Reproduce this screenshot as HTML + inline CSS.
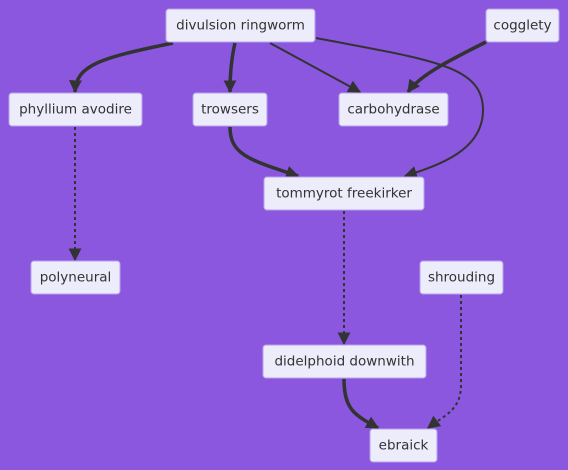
<!DOCTYPE html>
<html><head><meta charset="utf-8"><style>
body{margin:0;background:#8a57de;}
svg{display:block;font-family:"DejaVu Sans","Liberation Sans",sans-serif;}
.n rect{fill:#ececfa;stroke:#b9a2ee;stroke-width:1;}
.n text{font-size:13.5px;fill:#333;text-anchor:middle;dominant-baseline:central;}
.e{fill:none;stroke:#333;}
</style></head><body>
<svg width="568" height="470" viewBox="0 0 568 470">
<defs><marker id="b" viewBox="0 0 10 10" refX="9" refY="5" markerWidth="13" markerHeight="13" markerUnits="userSpaceOnUse" orient="auto"><path d="M0,0L10,5L0,10z" fill="#333"/></marker></defs>
<g>
<path class="e" stroke-width="3.5" marker-end="url(#b)" d="M173,43 C100,58 76,65 75,92"/>
<path class="e" stroke-width="3.5" marker-end="url(#b)" d="M235,43 C231,60 230,75 230,92"/>
<path class="e" stroke-width="2" marker-end="url(#b)" d="M270,43 L360,92"/>
<path class="e" stroke-width="2" marker-end="url(#b)" d="M316,38 C430,60 483,65 483,110 C483,150 440,165 405,176"/>
<path class="e" stroke-width="3.5" marker-end="url(#b)" d="M486,42 C450,60 420,75 408,92"/>
<path class="e" stroke-width="3.5" marker-end="url(#b)" d="M230,127 C230,155 250,160 298,176"/>
<path class="e" stroke-width="2" stroke-dasharray="3,3" marker-end="url(#b)" d="M75,127 L75,260"/>
<path class="e" stroke-width="2" stroke-dasharray="3,3" marker-end="url(#b)" d="M344,211 L344,344"/>
<path class="e" stroke-width="3.5" marker-end="url(#b)" d="M344,379 C344,410 355,415 378,428"/>
<path class="e" stroke-width="2" stroke-dasharray="3,3" marker-end="url(#b)" d="M461,295 L461,385 C461,410 445,415 428,428"/>
</g>
<g class="n"><rect x="166" y="9" width="149" height="33" rx="3"/><text x="240.5" y="25.5">divulsion ringworm</text></g>
<g class="n"><rect x="486" y="9" width="73" height="33" rx="3"/><text x="522.5" y="25.5">cogglety</text></g>
<g class="n"><rect x="9" y="93" width="133" height="33" rx="3"/><text x="75.5" y="109.5">phyllium avodire</text></g>
<g class="n"><rect x="193" y="93" width="74" height="33" rx="3"/><text x="230" y="109.5">trowsers</text></g>
<g class="n"><rect x="339" y="93" width="109" height="33" rx="3"/><text x="393.5" y="109.5">carbohydrase</text></g>
<g class="n"><rect x="264" y="177" width="160" height="33" rx="3"/><text x="344" y="193.5">tommyrot freekirker</text></g>
<g class="n"><rect x="31" y="261" width="89" height="33" rx="3"/><text x="75.5" y="277.5">polyneural</text></g>
<g class="n"><rect x="420" y="261" width="83" height="33" rx="3"/><text x="461.5" y="277.5">shrouding</text></g>
<g class="n"><rect x="263" y="345" width="163" height="33" rx="3"/><text x="344.5" y="361.5">didelphoid downwith</text></g>
<g class="n"><rect x="370" y="429" width="67" height="33" rx="3"/><text x="403.5" y="445.5">ebraick</text></g>
</svg>
</body></html>
